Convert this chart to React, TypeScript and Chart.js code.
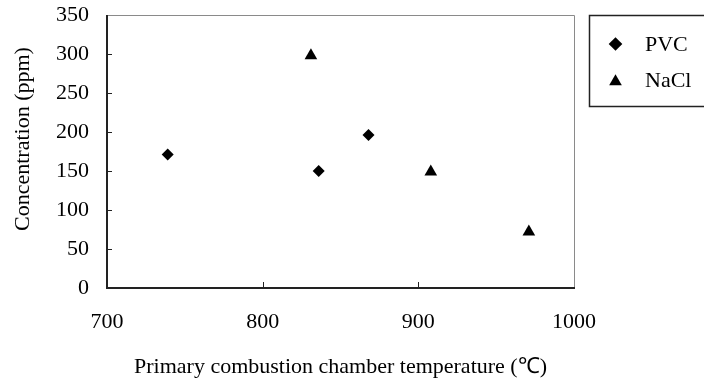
import React, { useEffect, useRef } from "react";
import { Chart, registerables } from "chart.js";

Chart.register(...registerables);

const pvcTemps = [739, 836, 868];
const pvcConc = [171, 150, 196];
const naclTemps = [831, 908, 971];
const naclConc = [298, 149, 72];
const seriesNames = ["PVC", "NaCl"];
const xTitle = "Primary combustion chamber temperature (\u2103)";
const yTitle = "Concentration (ppm)";

const FONT = "'Liberation Serif', 'Times New Roman', serif";

const framePlugin = {
  id: "frame",
  afterDraw(chart: any) {
    const { ctx, chartArea } = chart;
    const { left, right, top, bottom } = chartArea;
    const xs = chart.scales.x;
    const ys = chart.scales.y;
    ctx.save();
    // top/right thin gray
    ctx.strokeStyle = "#8a8a8a";
    ctx.lineWidth = 1;
    ctx.beginPath();
    ctx.moveTo(left, top + 0.5);
    ctx.lineTo(right + 0.5, top + 0.5);
    ctx.lineTo(right + 0.5, bottom);
    ctx.stroke();
    // left/bottom dark
    ctx.strokeStyle = "#222";
    ctx.lineWidth = 2;
    ctx.beginPath();
    ctx.moveTo(left, top);
    ctx.lineTo(left, bottom);
    ctx.lineTo(right + 1, bottom);
    ctx.stroke();
    // inner tick marks
    ctx.lineWidth = 1;
    ctx.beginPath();
    xs.ticks.forEach((t: any) => {
      const px = Math.round(xs.getPixelForValue(t.value)) + 0.5;
      if (px <= left + 2 || px >= right - 2) return;
      ctx.moveTo(px, bottom);
      ctx.lineTo(px, bottom - 6);
    });
    ys.ticks.forEach((t: any) => {
      const py = Math.round(ys.getPixelForValue(t.value)) + 0.5;
      if (py >= bottom - 2 || py <= top + 2) return;
      ctx.moveTo(left, py);
      ctx.lineTo(left + 5, py);
    });
    ctx.stroke();

    // y title
    ctx.save();
    ctx.fillStyle = "#000";
    ctx.font = `22px ${FONT}`;
    ctx.textAlign = "center";
    ctx.textBaseline = "middle";
    ctx.translate(23, 139);
    ctx.rotate(-Math.PI / 2);
    ctx.fillText(yTitle, 0, 0);
    ctx.restore();

    // legend box
    const bx = 589, by = 15, bw = 130, bh = 91;
    ctx.strokeStyle = "#222";
    ctx.lineWidth = 1.5;
    ctx.strokeRect(bx + 0.5, by + 0.5, bw, bh);
    const items = chart.data.datasets;
    const rows = [44, 80];
    ctx.fillStyle = "#000";
    ctx.font = `22px ${FONT}`;
    ctx.textBaseline = "middle";
    ctx.textAlign = "left";
    items.forEach((ds: any, i: number) => {
      const cy = rows[i];
      const cx = 615.5;
      ctx.save();
      ctx.fillStyle = "#000";
      ctx.beginPath();
      if (ds.pointStyle === "rectRot") {
        const r = 6.8;
        ctx.moveTo(cx, cy - r);
        ctx.lineTo(cx + r, cy);
        ctx.lineTo(cx, cy + r);
        ctx.lineTo(cx - r, cy);
      } else {
        const r = 7.3;
        const c = cy + 1.5;
        ctx.moveTo(cx, c - r);
        ctx.lineTo(cx + r * 0.866, c + r / 2);
        ctx.lineTo(cx - r * 0.866, c + r / 2);
      }
      ctx.closePath();
      ctx.fill();
      ctx.restore();
      ctx.fillText(ds.label, 645, cy + 1);
    });
    ctx.restore();
  },
};

export default function App() {
  const ref = useRef<HTMLCanvasElement>(null);
  useEffect(() => {
    document.body.style.margin = "0";
    const canvas = ref.current!;
    const chart = new Chart(canvas, {
      type: "scatter",
      data: {
        datasets: [
          {
            label: seriesNames[0],
            data: pvcTemps.map((x, i) => ({ x, y: pvcConc[i] })),
            pointStyle: "rectRot",
            pointRadius: 6,
            pointHoverRadius: 6,
            backgroundColor: "#000",
            borderColor: "#000",
            borderWidth: 0,
          },
          {
            label: seriesNames[1],
            data: naclTemps.map((x, i) => ({ x, y: naclConc[i] })),
            pointStyle: "triangle",
            pointRadius: 7.3,
            pointHoverRadius: 7.3,
            backgroundColor: "#000",
            borderColor: "#000",
            borderWidth: 0,
          },
        ],
      },
      options: {
        responsive: false,
        animation: false,
        devicePixelRatio: 1,
        layout: { padding: { top: 15, right: 130, left: 0, bottom: 0 } },
        plugins: { legend: { display: false }, tooltip: { enabled: false } },
        scales: {
          x: {
            type: "linear",
            min: 700,
            max: 1000,
            border: { display: false },
            grid: { display: false, drawTicks: false },
            ticks: {
              stepSize: 100,
              color: "#000",
              padding: 21,
              maxRotation: 0,
              font: { family: FONT, size: 22 },
              callback: (v: any) => String(v),
            },
            title: {
              display: true,
              text: xTitle,
              color: "#000",
              font: { family: FONT, size: 22 },
              padding: { top: 0, bottom: 1 },
            },
            afterFit(scale: any) {
              scale.height = 93;
              scale.paddingLeft = 0;
              scale.paddingRight = 0;
            },
          },
          y: {
            type: "linear",
            min: 0,
            max: 350,
            border: { display: false },
            grid: { display: false, drawTicks: false },
            ticks: {
              stepSize: 50,
              color: "#000",
              padding: 18,
              font: { family: FONT, size: 22 },
            },
            afterFit(scale: any) {
              scale.width = 107;
              scale.paddingTop = 0;
              scale.paddingBottom = 0;
            },
          },
        },
      },
      plugins: [framePlugin],
    });
    return () => chart.destroy();
  }, []);
  return <canvas ref={ref} width={704} height={381} style={{ display: "block" }} />;
}
